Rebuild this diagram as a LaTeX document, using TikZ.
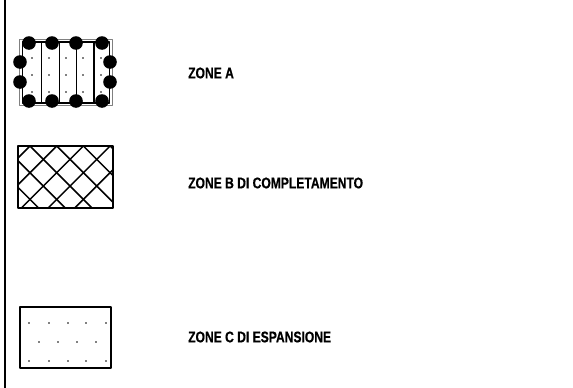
\documentclass[tikz,border=0pt]{standalone}
\usepackage{fontspec}
\newfontfamily\zonefont{Liberation Sans}[FakeStretch=0.78,BoldFeatures={FakeBold=0.6}]
\begin{document}
\begin{tikzpicture}[x=1pt, y=-1pt, line join=round, line cap=round,
  lab/.style={anchor=west, inner sep=0pt, font=\zonefont\bfseries\fontsize{15.5}{17}\selectfont},
  pin/.style={fill=black}]
\useasboundingbox (0,0) rectangle (573,388);
\def\r{6.8}
\draw[line width=2pt] (5,0) -- (5,388);
% zona A
\draw[gray, line width=0.8pt] (19.5,39.5) rectangle (112.5,105.5);
\draw[line width=1.6pt] (22.5,42) rectangle (109.5,103);
\foreach \x in {41.5,59.5,76.5,94}
  \draw[line width=1.4pt] (\x,42) -- (\x,103);
\foreach \x in {32,49,66,83,101}
  \foreach \y in {58,75,92}
    \fill (\x,\y) circle (0.9);
\foreach \x in {29,52,76,102}{
  \fill[pin] (\x,43) circle (\r);
  \fill[pin] (\x,101) circle (\r);}
\foreach \y in {62,82}{
  \fill[pin] (20,\y) circle (\r);
  \fill[pin] (110,\y) circle (\r);}
\node[lab] (labA) at (188,73) {ZONE A};
% zona B
\begin{scope}
\clip (18,146) rectangle (113,208);
\foreach \k in {-4,...,4}{
  \draw[line width=1.5pt] (30+26.7*\k,146) -- ++(80,80);
  \draw[line width=1.5pt] (30+26.7*\k,146) -- ++(-80,80);}
\end{scope}
\draw[line width=1.8pt] (18,146) rectangle (113,208);
\node[lab] (labB) at (188,183) {ZONE B DI COMPLETAMENTO};
% zona C
\draw[line width=1.8pt] (20,307) rectangle (111,368);
\foreach \x in {29,49,68,86,106}{
  \fill (\x,323) circle (0.9);
  \fill (\x,361) circle (0.9);}
\foreach \x in {39,58,77,96}
  \fill (\x,342) circle (0.9);
\node[lab] (labC) at (188,337) {ZONE C DI ESPANSIONE};
\end{tikzpicture}
\end{document}
